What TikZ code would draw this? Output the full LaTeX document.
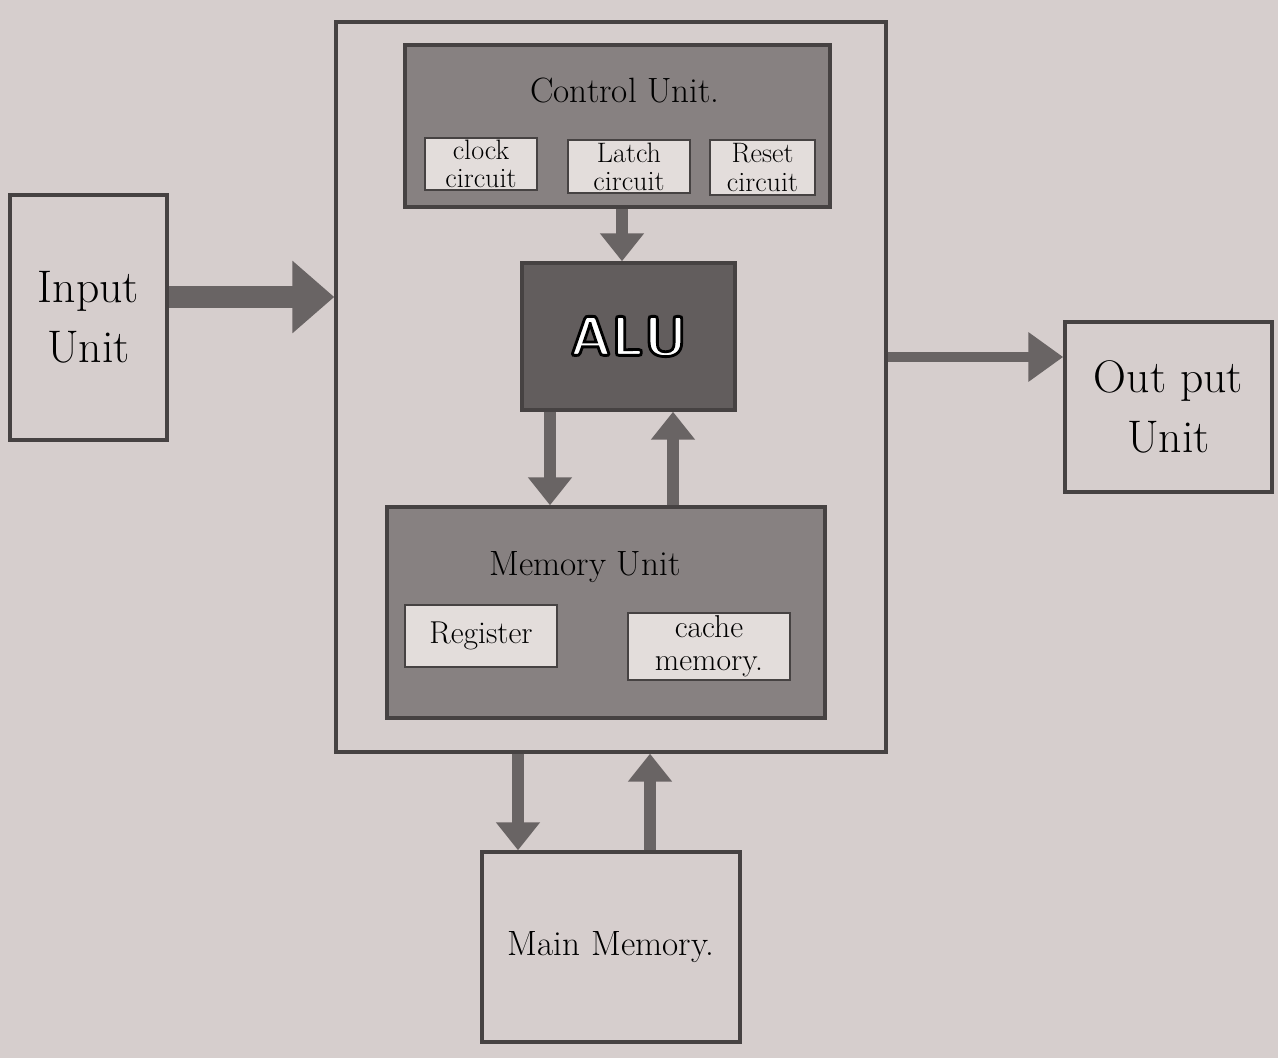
\documentclass[tikz,border=0pt]{standalone}
\usepackage{tikz}
\usetikzlibrary{arrows.meta}

\definecolor{paper}{RGB}{214,206,205}
\definecolor{pencil}{RGB}{70,66,66}
\definecolor{shade}{RGB}{135,129,129}
\definecolor{darkshade}{RGB}{98,93,93}
\definecolor{sheet}{RGB}{227,221,219}
\definecolor{shaft}{RGB}{105,100,100}

\tikzset{
    box/.style={draw=pencil, line width=2pt, inner sep=0pt, align=center},
    subbox/.style={box, line width=1.4pt, fill=sheet, font=\fontsize{16}{16}\selectfont},
    fatarrow/.style={draw=shaft, line width=0.44cm, -{Triangle[width=1.4cm,length=0.84cm]}},
    midarrow/.style={draw=shaft, line width=0.24cm, -{Triangle[width=0.85cm,length=0.56cm]}},
    thinarrow/.style={draw=shaft, line width=0.2cm, -{Triangle[width=0.95cm,length=0.7cm]}}
}
\newcommand{\hollowtext}[1]{\special{pdf:literal direct 0 G 1.6 w 2 Tr}#1\special{pdf:literal direct 0 Tr}}

\begin{document}
\begin{tikzpicture}[x=0.02cm, y=-0.02cm]
    \fill[paper] (0,0) rectangle (1278,1058);

    \node[box, minimum width=11cm, minimum height=14.6cm] (cpu) at (611,387) {};
    \node[box, minimum width=3.14cm, minimum height=4.9cm, font=\fontsize{26}{34}\selectfont] (input) at (88.5,317.5) {Input\\Unit};
    \node[box, minimum width=4.14cm, minimum height=3.4cm, font=\fontsize{26}{34}\selectfont] (output) at (1168.5,407) {Out put\\Unit};
    \node[box, minimum width=5.16cm, minimum height=3.8cm, font=\fontsize{20}{24}\selectfont] (main) at (611,947) {Main Memory.};

    \node[box, fill=shade, minimum width=8.5cm, minimum height=3.24cm] (cu) at (617.5,126) {};
    \node[font=\fontsize{20}{24}\selectfont] (cutitle) at (625,90) {Control Unit.};
    \node[subbox, minimum width=2.24cm, minimum height=1.04cm] (clock) at (481,164) {clock\\circuit};
    \node[subbox, minimum width=2.44cm, minimum height=1.06cm] (latch) at (629,166.5) {Latch\\circuit};
    \node[subbox, minimum width=2.1cm, minimum height=1.1cm] (reset) at (762.5,167.5) {Reset\\circuit};

    \node[box, fill=darkshade, minimum width=4.26cm, minimum height=2.94cm, text=white, font=\fontsize{32}{36}\sffamily\bfseries\selectfont] (alu) at (628.5,336.5) {\hollowtext{ALU}};

    \node[box, fill=shade, minimum width=8.76cm, minimum height=4.22cm] (mem) at (606,612.5) {};
    \node[font=\fontsize{20}{24}\selectfont] (memtitle) at (585,567) {Memory Unit};
    \node[subbox, font=\fontsize{18}{20}\selectfont, minimum width=3.04cm, minimum height=1.24cm] (register) at (481,636) {Register};
    \node[subbox, font=\fontsize{18}{19}\selectfont, minimum width=3.24cm, minimum height=1.34cm] (cache) at (709,646.5) {cache\\memory.};

    \draw[fatarrow] (input.east |- 0,297) -- (cpu.west |- 0,297);
    \draw[thinarrow] (cpu.east |- 0,357) -- (output.west |- 0,357);

    \draw[midarrow] (cu.south -| 622,0) -- (alu.north -| 622,0);
    \draw[midarrow] (alu.south -| 550,0) -- (mem.north -| 550,0);
    \draw[midarrow] (mem.north -| 673,0) -- (alu.south -| 673,0);

    \draw[midarrow] (cpu.south -| 518,0) -- (main.north -| 518,0);
    \draw[midarrow] (main.north -| 650,0) -- (cpu.south -| 650,0);
\end{tikzpicture}
\end{document}
